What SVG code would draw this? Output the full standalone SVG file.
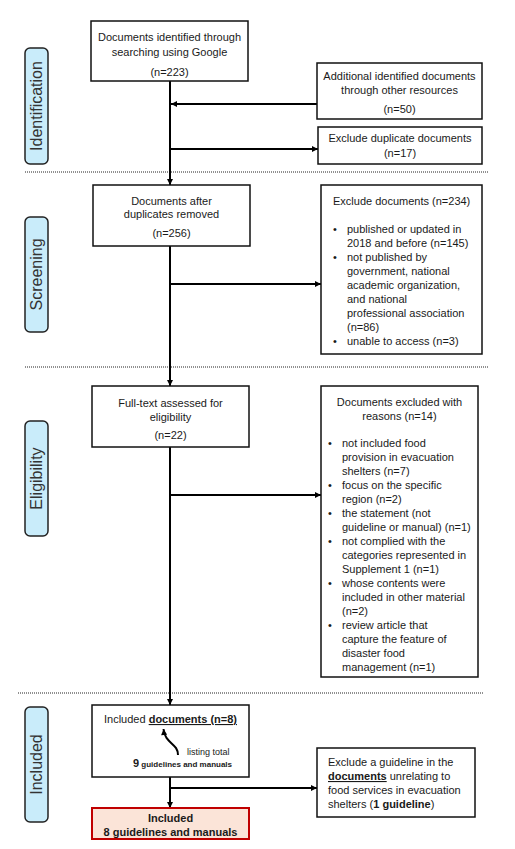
<svg xmlns="http://www.w3.org/2000/svg" width="515" height="849" viewBox="0 0 515 849">
<defs>
<marker id="ah" viewBox="0 0 10 10" refX="10" refY="5" markerWidth="7" markerHeight="6" markerUnits="userSpaceOnUse" orient="auto">
<path d="M0,0 L10,5 L0,10 Z" fill="#000"/>
</marker>
</defs>
<style>
text{font-family:"Liberation Sans",Arial,sans-serif;font-size:11px;fill:#1a1a1a}
.c{text-anchor:middle}
.b{font-weight:bold}
.u{text-decoration:underline}
.box{fill:#fff;stroke:#111;stroke-width:1.5}
.lab{fill:#c9ecfa;stroke:#222;stroke-width:1.5}
.labt{font-size:16px;fill:#333;text-anchor:middle}
.line{stroke:#000;stroke-width:2;fill:none}
.dot{stroke:#222;stroke-width:1;stroke-dasharray:1 1}
</style>
<rect width="515" height="849" fill="#fff"/>
<g id="separators">
<line class="dot" x1="25" y1="172" x2="489" y2="172"/>
<line class="dot" x1="25" y1="367" x2="489" y2="367"/>
<line class="dot" x1="18" y1="693" x2="483" y2="693"/>
</g>
<g id="stage-identification">
<rect class="lab" x="25" y="48" width="23" height="116" rx="5"/>
<text class="labt" transform="translate(42,106) rotate(-90)">Identification</text>
</g>
<g id="stage-screening">
<rect class="lab" x="25" y="217" width="23" height="115" rx="5"/>
<text class="labt" transform="translate(42,274.5) rotate(-90)">Screening</text>
</g>
<g id="stage-eligibility">
<rect class="lab" x="25" y="421" width="23" height="115" rx="5"/>
<text class="labt" transform="translate(42,478.5) rotate(-90)">Eligibility</text>
</g>
<g id="stage-included">
<rect class="lab" x="25" y="707" width="23" height="115" rx="5"/>
<text class="labt" transform="translate(42,764.5) rotate(-90)">Included</text>
</g>
<g id="connectors">
<line class="line" x1="170" y1="81" x2="170" y2="185" marker-end="url(#ah)"/>
<line class="line" x1="170" y1="246" x2="170" y2="386" marker-end="url(#ah)"/>
<line class="line" x1="170" y1="447" x2="170" y2="705" marker-end="url(#ah)"/>
<line class="line" x1="170" y1="777" x2="170" y2="808" marker-end="url(#ah)"/>
<line class="line" x1="317" y1="104" x2="171" y2="104" marker-end="url(#ah)"/>
<line class="line" x1="170" y1="149" x2="318" y2="149" marker-end="url(#ah)"/>
<line class="line" x1="170" y1="284" x2="321" y2="284" marker-end="url(#ah)"/>
<line class="line" x1="170" y1="495" x2="321" y2="495" marker-end="url(#ah)"/>
<line class="line" x1="170" y1="788" x2="317" y2="788" marker-end="url(#ah)"/>
</g>
<g id="n-google">
<rect class="box" x="91" y="21" width="157" height="60"/>
<text class="c" x="169.5" y="41">Documents identified through</text>
<text class="c" x="169.5" y="56">searching using Google</text>
<text class="c" x="169.5" y="76">(n=223)</text>
</g>
<g id="n-additional">
<rect class="box" x="317" y="63" width="165" height="56"/>
<text class="c" x="399.5" y="80">Additional identified documents</text>
<text class="c" x="399.5" y="94">through other resources</text>
<text class="c" x="399.5" y="113">(n=50)</text>
</g>
<g id="n-duplicates">
<rect class="box" x="318" y="127" width="164" height="37"/>
<text class="c" x="400" y="142">Exclude duplicate documents</text>
<text class="c" x="400" y="157">(n=17)</text>
</g>
<g id="n-after-dup">
<rect class="box" x="93" y="185" width="157" height="61"/>
<text class="c" x="171.5" y="205">Documents after</text>
<text class="c" x="171.5" y="218">duplicates removed</text>
<text class="c" x="171.5" y="237">(n=256)</text>
</g>
<g id="n-exclude-234">
<rect class="box" x="321" y="185" width="161" height="169"/>
<text x="333" y="205">Exclude documents (n=234)</text>
<text x="333" y="233">•</text><text x="347" y="233">published or updated in</text>
<text x="347" y="247">2018 and before (n=145)</text>
<text x="333" y="261">•</text><text x="347" y="261">not published by</text>
<text x="347" y="275">government, national</text>
<text x="347" y="289">academic organization,</text>
<text x="347" y="303">and national</text>
<text x="347" y="317">professional association</text>
<text x="347" y="331">(n=86)</text>
<text x="333" y="345">•</text><text x="347" y="345">unable to access (n=3)</text>
</g>
<g id="n-fulltext">
<rect class="box" x="92" y="386" width="157" height="61"/>
<text class="c" x="170.5" y="407">Full-text assessed for</text>
<text class="c" x="170.5" y="421">eligibility</text>
<text class="c" x="170.5" y="439">(n=22)</text>
</g>
<g id="n-exclude-14">
<rect class="box" x="321" y="386" width="157" height="291"/>
<text class="c" x="399.5" y="406">Documents excluded with</text>
<text class="c" x="399.5" y="420">reasons (n=14)</text>
<text x="328" y="447">•</text><text x="342" y="447">not included food</text>
<text x="342" y="461">provision in evacuation</text>
<text x="342" y="475">shelters (n=7)</text>
<text x="328" y="489">•</text><text x="342" y="489">focus on the specific</text>
<text x="342" y="503">region (n=2)</text>
<text x="328" y="517">•</text><text x="342" y="517">the statement (not</text>
<text x="342" y="531">guideline or manual) (n=1)</text>
<text x="328" y="545">•</text><text x="342" y="545">not complied with the</text>
<text x="342" y="559">categories represented in</text>
<text x="342" y="573">Supplement 1 (n=1)</text>
<text x="328" y="587">•</text><text x="342" y="587">whose contents were</text>
<text x="342" y="601">included in other material</text>
<text x="342" y="615">(n=2)</text>
<text x="328" y="629">•</text><text x="342" y="629">review article that</text>
<text x="342" y="643">capture the feature of</text>
<text x="342" y="657">disaster food</text>
<text x="342" y="671">management (n=1)</text>
</g>
<g id="n-included-docs">
<rect class="box" x="92" y="705" width="157" height="72"/>
<text x="104" y="723">Included <tspan class="b u">documents (n=8)</tspan></text>
<path class="line" d="M178,755 C178,743 165,744 163.5,729" marker-end="url(#ah)"/>
<text x="187" y="755" style="font-size:9px">listing total</text>
<text x="133" y="767" class="b"><tspan>9</tspan><tspan style="font-size:8px"> guidelines and manuals</tspan></text>
</g>
<g id="n-exclude-guideline">
<rect class="box" x="317" y="748" width="158" height="69"/>
<text x="328" y="766">Exclude a guideline in the</text>
<text x="328" y="780"><tspan class="b u">documents</tspan> unrelating to</text>
<text x="328" y="794">food services in evacuation</text>
<text x="328" y="808">shelters (<tspan class="b">1 guideline</tspan>)</text>
</g>
<g id="n-final">
<rect x="92" y="808" width="157" height="31" fill="#fbe4d8" stroke="#c00000" stroke-width="2"/>
<text class="c b" x="170.5" y="822">Included</text>
<text class="c b" x="170.5" y="836">8 guidelines and manuals</text>
</g>
</svg>
